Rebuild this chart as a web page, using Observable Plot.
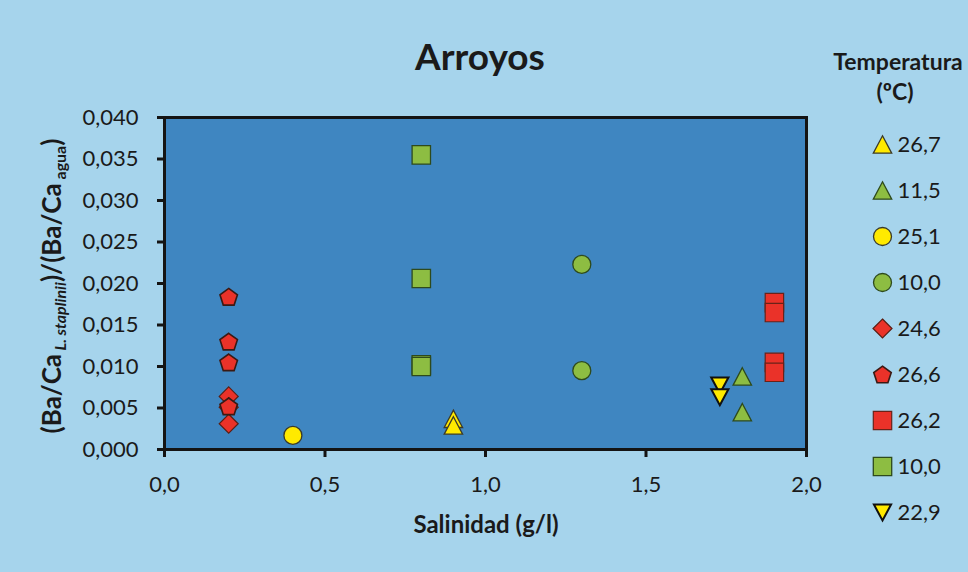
<!DOCTYPE html>
<html>
<head>
<meta charset="utf-8">
<script src="https://cdn.jsdelivr.net/npm/d3@7"></script>
<script src="https://cdn.jsdelivr.net/npm/@observablehq/plot@0.6"></script>
<style>
  body { margin: 0; }
  #wrap { position: relative; width: 968px; height: 572px; background: #a6d4ec; overflow: hidden;
          font-family: Lato, "Open Sans", sans-serif; color: #1a1a1a; }
  .abs { position: absolute; white-space: nowrap; line-height: 1; }
  svg { position: absolute; left: 0; top: 0; }
</style>
</head>
<body>
<div id="wrap">
  <div class="abs" id="title" style="left:380px;width:200px;text-align:center;top:37px;font-size:37px;font-weight:bold;">Arroyos</div>
  <div class="abs" id="xlab" style="left:336px;width:300px;text-align:center;top:512px;font-size:24px;font-weight:bold;">Salinidad (g/l)</div>
  <div class="abs" id="ylab" style="left:51px;top:286px;font-size:26px;font-weight:bold;transform:translate(-50%,-50%) rotate(-90deg);">(Ba/Ca<span style="font-size:16px;font-style:italic;position:relative;top:5px;"> L. staplinii</span>)/(Ba/Ca<span style="font-size:16px;position:relative;top:5px;"> agua</span>)</div>
  <div class="abs" id="lt1" style="left:824px;width:148px;text-align:center;top:50px;font-size:23px;font-weight:bold;">Temperatura</div>
  <div class="abs" id="lt2" style="left:821px;width:148px;text-align:center;top:80px;font-size:23px;font-weight:bold;">(ºC)</div>
</div>
<script>
// ---- data ----
const temperatura = ["26,7", "11,5", "25,1", "10,0", "24,6", "26,6", "26,2", "10,0", "22,9"];
const salinidad = [
  [0.90, 0.90],
  [1.80, 1.80],
  [0.40],
  [1.30, 1.30],
  [0.20, 0.20, 0.20],
  [0.20, 0.20, 0.20, 0.20],
  [1.90, 1.90, 1.90, 1.90],
  [0.80, 0.80, 0.80, 0.80],
  [1.73, 1.73]
];
const baCaRatio = [
  [0.0037, 0.0029],
  [0.0088, 0.0045],
  [0.0017],
  [0.0223, 0.0095],
  [0.0064, 0.0051, 0.0031],
  [0.0184, 0.0130, 0.0105, 0.0052],
  [0.0177, 0.0165, 0.0105, 0.0093],
  [0.0355, 0.0206, 0.0102, 0.0100],
  [0.0077, 0.0063]
];
const xTicks = [0, 0.5, 1, 1.5, 2];
const yTicks = [0, 0.005, 0.010, 0.015, 0.020, 0.025, 0.030, 0.035, 0.040];

// ---- symbols (custom) ----
const R = (size) => Math.sqrt(size / Math.PI);
const symSquare = { draw(c, s) { const h = 0.92 * R(s); c.rect(-h, -h, 2 * h, 2 * h); } };
const symCircle = { draw(c, s) { const r = 0.9 * R(s); c.moveTo(r, 0); c.arc(0, 0, r, 0, 2 * Math.PI); } };
const symUp = { draw(c, s) { const k = R(s); const w = 0.92 * k, h = 0.87 * k; c.moveTo(0, -h); c.lineTo(w, h); c.lineTo(-w, h); c.closePath(); } };
const symDown = { draw(c, s) { const k = R(s); const w = 0.86 * k, h = 0.8 * k; c.moveTo(0, h); c.lineTo(w, -h); c.lineTo(-w, -h); c.closePath(); } };
const symDiamond = { draw(c, s) { const h = 0.95 * R(s); c.moveTo(0, -h); c.lineTo(h, 0); c.lineTo(0, h); c.lineTo(-h, 0); c.closePath(); } };
const symPent = { draw(c, s) { const r = 0.92 * R(s); const off = 0.095 * r;
  for (let i = 0; i < 5; i++) { const a = -Math.PI / 2 + i * 2 * Math.PI / 5; const px = r * Math.cos(a), py = r * Math.sin(a) + off; if (i) c.lineTo(px, py); else c.moveTo(px, py); } c.closePath(); } };

const YEL = "#ffea00", GRN = "#8dbd42", RED = "#ea3229";
const styles = [
  { symbol: symUp, fill: YEL, stroke: "#3a3a2a", sw: 1.3 },
  { symbol: symUp, fill: GRN, stroke: "#2e4a1c", sw: 1.3 },
  { symbol: symCircle, fill: YEL, stroke: "#3a3a2a", sw: 1.3 },
  { symbol: symCircle, fill: GRN, stroke: "#2e4a1c", sw: 1.3 },
  { symbol: symDiamond, fill: RED, stroke: "#5a1f14", sw: 1.2 },
  { symbol: symPent, fill: RED, stroke: "#3a1a14", sw: 1.6 },
  { symbol: symSquare, fill: RED, stroke: "#6a2218", sw: 1.2 },
  { symbol: symSquare, fill: GRN, stroke: "#2e4a1c", sw: 1.3 },
  { symbol: symDown, fill: YEL, stroke: "#111", sw: 2 }
];

const fmtY = d => d3.format(".3f")(d).replace(".", ",");
const fmtX = d => d3.format(".1f")(d).replace(".", ",");

const dotMarks = temperatura.map((t, i) => {
  const rows = salinidad[i].map((s, j) => ({ sal: s, ratio: baCaRatio[i][j] }));
  const st = styles[i];
  return Plot.dot(rows, { x: "sal", y: "ratio", r: 10, symbol: st.symbol, fill: st.fill, stroke: st.stroke, strokeWidth: st.sw });
});

const chart = Plot.plot({
  width: 968, height: 572,
  marginLeft: 164, marginRight: 162, marginTop: 117, marginBottom: 123,
  style: { background: "transparent", fontFamily: "Lato, 'Open Sans', sans-serif", color: "#1a1a1a", overflow: "visible" },
  x: { domain: [0, 2] },
  y: { domain: [0, 0.04] },
  marks: [
    Plot.frame({ fill: "#3f86c1" }),
    ...dotMarks,
    Plot.frame({ stroke: "#141414", strokeWidth: 3 }),
    Plot.axisX({ ticks: xTicks, tickFormat: fmtX, tickSize: 8, tickPadding: 19, strokeWidth: 3, fontSize: 22, label: null, stroke: "#141414", fill: "#1a1a1a" }),
    Plot.axisY({ ticks: yTicks, tickFormat: fmtY, tickSize: 7, tickPadding: 19, strokeWidth: 3, fontSize: 22, label: null, stroke: "#141414", fill: "#1a1a1a" })
  ]
});
document.getElementById("wrap").appendChild(chart);

// ---- legend (second Plot) ----
const legendRows = temperatura.map((t, i) => ({ k: i, label: t }));
const legendMarks = legendRows.map((row, i) => {
  const st = styles[i];
  return Plot.dot([row], { y: "k", frameAnchor: "left", dx: 62, r: 10, symbol: st.symbol, fill: st.fill, stroke: st.stroke, strokeWidth: st.sw });
});
const legend = Plot.plot({
  width: 148, height: 572,
  margin: 0,
  style: { background: "transparent", fontFamily: "Lato, 'Open Sans', sans-serif", color: "#1a1a1a", overflow: "visible" },
  y: { type: "point", domain: legendRows.map(d => d.k), range: [142, 513], padding: 0, axis: null },
  marks: [
    ...legendMarks,
    Plot.text(legendRows, { y: "k", text: "label", frameAnchor: "left", dx: 77, textAnchor: "start", fontSize: 22, fill: "#1a1a1a" })
  ]
});
legend.style.left = "820px";
document.getElementById("wrap").appendChild(legend);
</script>
</body>
</html>
